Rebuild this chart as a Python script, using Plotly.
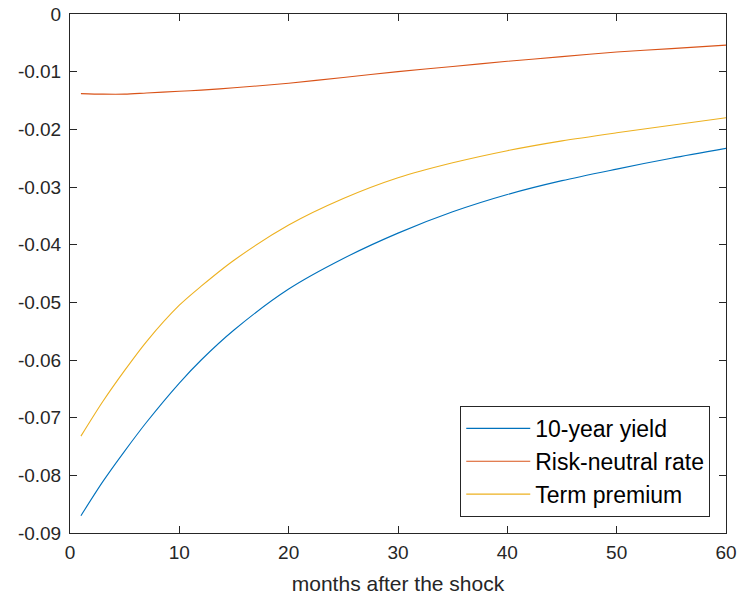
import plotly.graph_objects as go

months = [1, 3, 5, 7, 10, 12, 15, 20, 25, 30, 35, 40, 45, 50, 55, 60]
yield_10y = [-0.0870, -0.0811, -0.0758, -0.0708, -0.0640, -0.0600, -0.0548, -0.0477, -0.0424, -0.0380, -0.0343, -0.0313, -0.0289, -0.0269, -0.0250, -0.0233]
risk_neutral = [-0.0138, -0.0139, -0.0139, -0.0137, -0.0134, -0.0132, -0.0128, -0.0120, -0.0110, -0.0100, -0.0091, -0.0082, -0.0074, -0.0066, -0.0060, -0.0054]
term_premium = [-0.0732, -0.0672, -0.0618, -0.0568, -0.0505, -0.0472, -0.0427, -0.0366, -0.0320, -0.0284, -0.0258, -0.0237, -0.0220, -0.0206, -0.0193, -0.0180]

names = ["10-year yield", "Risk-neutral rate", "Term premium"]
colors = ["#0072BD", "#D95319", "#EDB120"]

x_ticks = [0, 10, 20, 30, 40, 50, 60]
y_ticks = [0, -0.01, -0.02, -0.03, -0.04, -0.05, -0.06, -0.07, -0.08, -0.09]
y_ticktext = ["0", "-0.01", "-0.02", "-0.03", "-0.04", "-0.05", "-0.06", "-0.07", "-0.08", "-0.09"]

FONT = "Arial, Liberation Sans, sans-serif"
AX = "#262626"

fig = go.Figure()
for i, (nm, ys) in enumerate(zip(names, [yield_10y, risk_neutral, term_premium])):
    fig.add_trace(go.Scatter(
        x=months, y=ys, mode="lines", name=nm, legendgroup=f"g{i}",
        line=dict(color=colors[i], width=1.1, shape="spline", smoothing=0.8),
    ))

axis_common = dict(
    showline=True, linecolor=AX, linewidth=1, mirror="ticks",
    ticks="inside", ticklen=7, tickwidth=1, tickcolor=AX,
    showgrid=False, zeroline=False,
    tickfont=dict(family=FONT, size=19, color=AX),
)

fig.update_layout(
    width=739, height=598,
    margin=dict(l=70, r=13, t=14, b=65),
    paper_bgcolor="white", plot_bgcolor="white",
    font=dict(family=FONT, color=AX),
    showlegend=True,
    legend=dict(
        x=0.976, y=0.031, xanchor="right", yanchor="bottom",
        bgcolor="white", bordercolor=AX, borderwidth=1,
        font=dict(family=FONT, size=23, color="black"),
        tracegroupgap=0, traceorder="grouped", itemwidth=64,
    ),
    xaxis=dict(range=[0, 60], tickvals=x_ticks, automargin=False, ticklabelstandoff=2,
               title=dict(text="months after the shock", font=dict(family=FONT, size=21, color=AX), standoff=14),
               **axis_common),
    yaxis=dict(range=[-0.09, 0], tickvals=y_ticks, ticktext=y_ticktext, automargin=False,
               ticklabelstandoff=4, **axis_common),
)

# remove the default 8px page margin so the figure fills the window exactly
fig.write_html("out.html", config={"displayModeBar": False},
               post_script="document.body.style.margin='0px';")
